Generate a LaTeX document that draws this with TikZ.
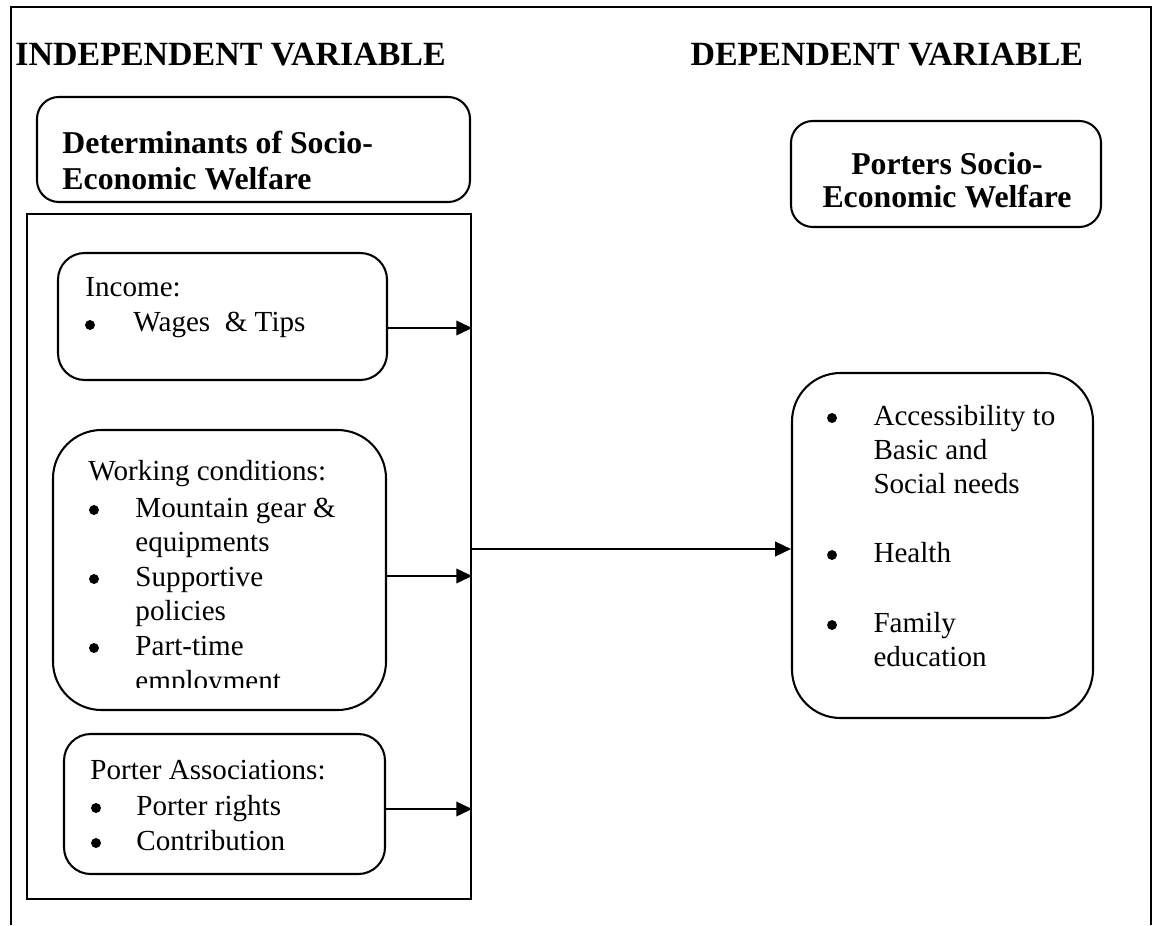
\documentclass[tikz,border=0pt]{standalone}
\usepackage{fontspec}
\setmainfont{Liberation Serif}
\usetikzlibrary{arrows.meta,fit}
\begin{document}
\begin{tikzpicture}[x=0.4125pt,y=-0.4125pt,
  ln/.style={line width=0.85pt},
  rbox/.style={draw,line width=0.85pt,inner sep=0pt,rounded corners=#1},
  rbox/.default=9pt,
  txt/.style={anchor=base west,inner sep=0pt,font=\fontsize{12}{14}\selectfont},
  bul/.style={circle,fill,inner sep=0pt,minimum size=4.1pt},
  hd/.style={anchor=base west,inner sep=0pt,font=\bfseries\fontsize{14}{16}\selectfont},
  bhd/.style={anchor=base west,inner sep=0pt,font=\bfseries\fontsize{13.1}{15}\selectfont},
  bhdc/.style={anchor=base,inner sep=0pt,font=\bfseries\fontsize{13.1}{15}\selectfont},
  arr/.style={line width=0.85pt,-{Triangle[length=6.5pt,width=6pt]}}]
\useasboundingbox (0,0) rectangle (1155,925);
% outer frame (open at bottom)
\draw[ln] (11,925) -- (11,7) -- (1151,7) -- (1151,925);
% headings
\node[hd] (hin) at (15,66) {INDEPENDENT VARIABLE};
\node[hd] (hdep) at (690,66) {DEPENDENT VARIABLE};
% determinants box
\node[rbox=9pt,fit={(37,97) (470,202)}] (det) {};
\node[bhd] (det1) at (62,154) {Determinants of Socio-};
\node[bhd] (det2) at (62,190) {Economic Welfare};
% porters box
\node[rbox=9pt,fit={(791,121) (1101,227)}] (por) {};
\node[bhdc] (por1) at (947,175) {Porters Socio-};
\node[bhdc] (por2) at (947,208) {Economic Welfare};
% big rectangle
\node[draw,line width=0.85pt,inner sep=0pt,fit={(27,214) (471,899)}] (big) {};
% income box
\node[rbox=11pt,fit={(58,253) (387,380)}] (inc) {};
\node[txt] (inc1) at (85,297) {Income:};
\node[bul] (inc2) at (90,325) {};
\node[txt] (inc3) at (133,332) {Wages\ \ \& Tips};
% working box
\node[rbox=20pt,fit={(53,430) (386,710)}] (wrk) {};
\node[txt] (wrk0) at (88,480) {Working conditions:};
\node[bul] (wrkb1) at (94,510) {};
\node[txt] (wrk1) at (135,517) {Mountain gear \&};
\node[txt] (wrk2) at (135,551) {equipments};
\node[bul] (wrkb2) at (94,579) {};
\node[txt] (wrk3) at (135,586) {Supportive};
\node[txt] (wrk4) at (135,620) {policies};
\node[bul] (wrkb3) at (94,648) {};
\node[txt] (wrk5) at (135,655) {Part-time};
\begin{scope}
\clip (53,600) rectangle (386,687);
\node[txt] (wrk6) at (135,690) {employment};
\end{scope}
% porter associations box
\node[rbox=11pt,fit={(64,734) (385,874)}] (asc) {};
\node[txt] (asc0) at (90,779) {Porter Associations:};
\node[bul] (ascb1) at (96,808) {};
\node[txt] (asc1) at (136,815) {Porter rights};
\node[bul] (ascb2) at (96,843) {};
\node[txt] (asc2) at (136,850) {Contribution};
% right box
\node[rbox=20pt,fit={(792,373) (1093,718)}] (rb) {};
\node[bul] (rbb1) at (832,418) {};
\node[txt] (rb1) at (873,425) {Accessibility to};
\node[txt] (rb2) at (873,459) {Basic and};
\node[txt] (rb3) at (873,493) {Social needs};
\node[bul] (rbb2) at (832,555) {};
\node[txt] (rb4) at (873,562) {Health};
\node[bul] (rbb3) at (832,625) {};
\node[txt] (rb5) at (873,632) {Family};
\node[txt] (rb6) at (873,666) {education};
% connectors
\coordinate (a1) at (387,328);
\coordinate (a2) at (386,576);
\coordinate (a3) at (385,809);
\coordinate (a4) at (471,549);
\draw[arr] (a1) -- (a1 -| big.east);
\draw[arr] (a2) -- (a2 -| big.east);
\draw[arr] (a3) -- (a3 -| big.east);
\draw[arr] (a4) -- (a4 -| rb.west);
\end{tikzpicture}
\end{document}
